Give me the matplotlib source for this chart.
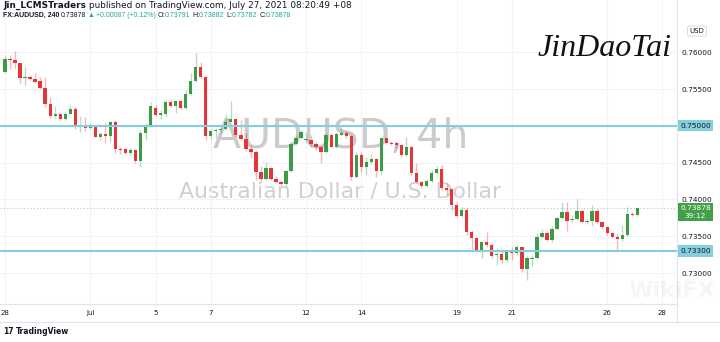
import numpy as np
import matplotlib.pyplot as plt
from matplotlib.transforms import blended_transform_factory

# AUDUSD 4h candles, Jun 28 05:00 .. Jul 27 05:00 (+08)
opens = [0.75728, 0.75909, 0.75895, 0.75851, 0.75650, 0.75660, 0.75640, 0.75610, 0.75519, 0.75293,
         0.75134, 0.75162, 0.75094, 0.75162, 0.75225, 0.74995, 0.75012, 0.74967, 0.74985, 0.74853,
         0.74890, 0.74867, 0.75049, 0.74690, 0.74682, 0.74627, 0.74672, 0.74523, 0.74899, 0.75002,
         0.75239, 0.75148, 0.75162, 0.75329, 0.75270, 0.75342, 0.75239, 0.75433, 0.75610, 0.75804,
         0.75668, 0.74863, 0.74935, 0.74944, 0.74954, 0.75057, 0.75090, 0.74876, 0.74818, 0.74686,
         0.74649, 0.74377, 0.74274, 0.74424, 0.74274, 0.74241, 0.74206, 0.74387, 0.74754, 0.74831,
         0.74808, 0.74808, 0.74750, 0.74717, 0.74641, 0.74876, 0.74717, 0.74880, 0.74907, 0.74863,
         0.74309, 0.74600, 0.74445, 0.74513, 0.74546, 0.74387, 0.74831, 0.74771, 0.74771, 0.74736,
         0.74604, 0.74717, 0.74356, 0.74241, 0.74183, 0.74251, 0.74364, 0.74418, 0.74152, 0.74140,
         0.73930, 0.73780, 0.73857, 0.73562, 0.73472, 0.73304, 0.73418, 0.73381, 0.73245, 0.73259,
         0.73177, 0.73290, 0.73268, 0.73350, 0.73051, 0.73195, 0.73210, 0.73494, 0.73548, 0.73449,
         0.73595, 0.73744, 0.73826, 0.73720, 0.73740, 0.73847, 0.73698, 0.73705, 0.73847, 0.73698,
         0.73622, 0.73548, 0.73494, 0.73459, 0.73517, 0.73802, 0.73791]
highs = [0.75963, 0.75963, 0.76022, 0.75859, 0.75804, 0.75696, 0.75715, 0.75660, 0.75660, 0.75397,
         0.75270, 0.75171, 0.75193, 0.75270, 0.75261, 0.75134, 0.75125, 0.75043, 0.74989, 0.74921,
         0.75039, 0.75070, 0.75077, 0.74717, 0.74695, 0.74695, 0.74682, 0.74944, 0.75035, 0.75329,
         0.75284, 0.75216, 0.75352, 0.75365, 0.75352, 0.75352, 0.75488, 0.75723, 0.75995, 0.75872,
         0.75678, 0.74954, 0.74967, 0.74985, 0.75168, 0.75342, 0.75094, 0.75080, 0.74899, 0.74740,
         0.74672, 0.74450, 0.74513, 0.74437, 0.74319, 0.74265, 0.74400, 0.74785, 0.74876, 0.74944,
         0.74921, 0.74876, 0.74785, 0.74740, 0.74899, 0.74903, 0.74921, 0.75012, 0.74935, 0.74876,
         0.74640, 0.74649, 0.74580, 0.74620, 0.74560, 0.74845, 0.74845, 0.74790, 0.74790, 0.74750,
         0.74853, 0.74730, 0.74495, 0.74251, 0.74280, 0.74400, 0.74450, 0.74470, 0.74220, 0.74160,
         0.73960, 0.73900, 0.73880, 0.73580, 0.73490, 0.73430, 0.73560, 0.73400, 0.73336, 0.73300,
         0.73310, 0.73350, 0.73380, 0.73360, 0.73250, 0.73240, 0.73540, 0.73600, 0.73570, 0.73640,
         0.73766, 0.73970, 0.73970, 0.73790, 0.74000, 0.73870, 0.73750, 0.73925, 0.73870, 0.73710,
         0.73640, 0.73560, 0.73530, 0.73650, 0.73900, 0.73830, 0.73882]
lows = [0.75725, 0.75769, 0.75783, 0.75579, 0.75556, 0.75624, 0.75587, 0.75497, 0.75252, 0.75103,
        0.75111, 0.75080, 0.75080, 0.75148, 0.74954, 0.74921, 0.74935, 0.74954, 0.74845, 0.74808,
        0.74767, 0.74785, 0.74627, 0.74614, 0.74618, 0.74604, 0.74500, 0.74437, 0.74808, 0.74989,
        0.75134, 0.75090, 0.75117, 0.75261, 0.75179, 0.75225, 0.75229, 0.75420, 0.75601, 0.75655,
        0.74808, 0.74818, 0.74831, 0.74903, 0.74944, 0.75049, 0.74853, 0.74808, 0.74663, 0.74559,
        0.74265, 0.74241, 0.74265, 0.74265, 0.74220, 0.74183, 0.74183, 0.74377, 0.74740, 0.74818,
        0.74763, 0.74717, 0.74672, 0.74491, 0.74627, 0.74700, 0.74704, 0.74863, 0.74840, 0.74265,
        0.74290, 0.74380, 0.74330, 0.74480, 0.74309, 0.74332, 0.74750, 0.74740, 0.74700, 0.74581,
        0.74590, 0.74330, 0.74220, 0.74150, 0.74170, 0.74240, 0.74350, 0.74129, 0.74061, 0.73857,
        0.73760, 0.73760, 0.73520, 0.73310, 0.73280, 0.73210, 0.73360, 0.73200, 0.73109, 0.73140,
        0.73150, 0.73177, 0.73250, 0.73020, 0.72900, 0.73090, 0.73190, 0.73480, 0.73430, 0.73420,
        0.73580, 0.73730, 0.73565, 0.73690, 0.73720, 0.73680, 0.73660, 0.73640, 0.73660, 0.73600,
        0.73520, 0.73470, 0.73306, 0.73440, 0.73500, 0.73770, 0.73782]
closes = [0.75909, 0.75895, 0.75851, 0.75655, 0.75660, 0.75637, 0.75603, 0.75519, 0.75293, 0.75134,
          0.75162, 0.75094, 0.75162, 0.75225, 0.74989, 0.75012, 0.74967, 0.74985, 0.74853, 0.74890,
          0.74867, 0.75049, 0.74682, 0.74672, 0.74627, 0.74672, 0.74523, 0.74899, 0.75002, 0.75270,
          0.75148, 0.75179, 0.75329, 0.75270, 0.75342, 0.75239, 0.75433, 0.75610, 0.75804, 0.75668,
          0.74863, 0.74935, 0.74944, 0.74954, 0.75057, 0.75090, 0.74876, 0.74818, 0.74686, 0.74649,
          0.74377, 0.74274, 0.74424, 0.74274, 0.74241, 0.74206, 0.74387, 0.74754, 0.74831, 0.74921,
          0.74815, 0.74750, 0.74717, 0.74641, 0.74876, 0.74717, 0.74890, 0.74907, 0.74863, 0.74309,
          0.74600, 0.74441, 0.74513, 0.74546, 0.74387, 0.74831, 0.74771, 0.74758, 0.74736, 0.74604,
          0.74717, 0.74356, 0.74241, 0.74183, 0.74251, 0.74364, 0.74418, 0.74152, 0.74135, 0.73930,
          0.73780, 0.73857, 0.73562, 0.73472, 0.73304, 0.73418, 0.73381, 0.73232, 0.73259, 0.73177,
          0.73290, 0.73270, 0.73350, 0.73051, 0.73200, 0.73210, 0.73494, 0.73548, 0.73449, 0.73595,
          0.73744, 0.73826, 0.73711, 0.73740, 0.73847, 0.73698, 0.73705, 0.73847, 0.73698, 0.73622,
          0.73548, 0.73494, 0.73459, 0.73517, 0.73802, 0.73790, 0.73878]

date_pos = [0, 17, 30, 41, 60, 71, 90, 101, 120, 131]
date_lbl = ['28', 'Jul', '5', '7', '12', '14', '19', '21', '26', '28']
price_ticks = [0.730, 0.735, 0.740, 0.745, 0.750, 0.755, 0.760]
levels = [0.75000, 0.73300]
last_price = 0.73878

W, H = 720, 342
up_col, dn_col = '#3d9a46', '#e2363b'
level_col = '#84cfdf'

fig = plt.figure(figsize=(W / 100, H / 100), dpi=100)
ax = fig.add_axes([0, (H - 304) / H, 677 / W, 304 / H])

o = np.array(opens); h = np.array(highs); l = np.array(lows); c = np.array(closes)
idx = np.arange(len(o))
up = c >= o
body_col = np.where(up, up_col, dn_col)

ax.vlines(idx[up], l[up], h[up], color=up_col, alpha=0.35, lw=1, zorder=2)
ax.vlines(idx[~up], l[~up], h[~up], color=dn_col, alpha=0.35, lw=1, zorder=2)
ax.bar(idx, np.maximum(np.abs(c - o), 0.00012), bottom=np.minimum(o, c), width=0.66,
       color=body_col, linewidth=0, zorder=3)

for lv in levels:
    ax.axhline(lv, color=level_col, lw=1.5, zorder=4)
ax.axhline(last_price, color='#66bb6a', lw=0.8, ls=(0, (1, 2)), alpha=0.6, zorder=1)

# watermark
ax.text(0.503, 0.548, 'AUDUSD, 4h', transform=ax.transAxes, ha='center', va='center',
        fontsize=29.5, color='#cbcbcb', zorder=0)
ax.text(0.503, 0.37, 'Australian Dollar / U.S. Dollar', transform=ax.transAxes,
        ha='center', va='center', fontsize=15.8, color='#d0d0d0', zorder=0)

ax.set_xlim((0 - 5) / 5.018, (677 - 5) / 5.018)
ax.set_ylim(0.76 - (304 - 52.3) * 0.0001359, 0.76 + 52.3 * 0.0001359)

ax.set_xticks(date_pos)
ax.set_xticklabels(date_lbl)
ax.set_yticks(price_ticks)
# the 0.75000 tick sits under the level label box
ax.set_yticklabels(['' if p in levels else '%.5f' % p for p in price_ticks])
ax.yaxis.tick_right()
ax.tick_params(axis='y', length=0, pad=3.6, labelsize=5.3, labelcolor='#131722')
ax.tick_params(axis='x', length=0, pad=4, labelsize=5, labelcolor='#131722')
ax.grid(True, color='#f0f3fa', lw=0.8)
ax.set_axisbelow(True)
for s in ['top', 'left']:
    ax.spines[s].set_visible(False)
for s in ['right', 'bottom']:
    ax.spines[s].set_color('#e0e3eb')
    ax.spines[s].set_linewidth(0.8)

fig.add_artist(plt.Line2D([0, 1], [1 - 322 / H, 1 - 322 / H], color='#e0e3eb', lw=0.8))
fig.add_artist(plt.Line2D([677 / W, 677 / W], [1 - 304 / H, 1 - 322 / H], color='#e0e3eb', lw=0.8))

# price axis labels
tr = blended_transform_factory(fig.transFigure, ax.transData)
for lv in levels:
    ax.text(695.5 / W, lv, '%.5f' % lv, transform=tr, ha='center', va='center', fontsize=5.3,
            color='#131722', clip_on=False, zorder=6,
            bbox=dict(boxstyle='square,pad=0.35', fc=level_col, ec='none'))
ax.text(695.5 / W, 0.73830, '%.5f\n39:12' % last_price, transform=tr, ha='center', va='center',
        fontsize=5.3, color='white', linespacing=1.35, clip_on=False, zorder=6,
        bbox=dict(boxstyle='square,pad=0.35', fc='#43a047', ec='none'))
fig.text(697 / W, 1 - 31 / H, 'USD', ha='center', va='center', fontsize=5, color='#131722',
         bbox=dict(boxstyle='round,pad=0.3', fc='white', ec='#d1d4dc', lw=0.6))

# signature
fig.text(605 / W, 1 - 49 / H, 'JinDaoTai', ha='center', va='center', fontsize=23,
         family='Liberation Serif', style='italic', color='#111111')

# header rows
renderer = fig.canvas.get_renderer()


def draw_row(x, y, parts, size, family):
    for s, col, wt, gap in parts:
        t = fig.text(x / W, 1 - y / H, s, fontsize=size, color=col, fontweight=wt,
                     family=family, ha='left', va='center')
        x += t.get_window_extent(renderer=renderer).width + gap


teal = '#26a69a'
draw_row(3, 5.5, [('Jin_LCMSTraders', '#131722', 'bold', 3),
                  ('published on TradingView.com, July 27, 2021 08:20:49 +08', '#131722', 'normal', 0)],
         6.4, 'DejaVu Sans')
draw_row(3, 15.5, [('FX:AUDUSD, 240', '#131722', 'bold', 1.5),
                   ('0.73878', '#131722', 'normal', 1.5),
                   ('▲', teal, 'normal', 1.5),
                   ('+0.00087 (+0.12%)', teal, 'normal', 1.5),
                   ('O:', '#131722', 'normal', 0), ('0.73791', teal, 'normal', 1.5),
                   ('H:', '#131722', 'normal', 0), ('0.73882', teal, 'normal', 1.5),
                   ('L:', '#131722', 'normal', 0), ('0.73782', teal, 'normal', 1.5),
                   ('C:', '#131722', 'normal', 0), ('0.73878', teal, 'normal', 0)],
         5.0, ['Liberation Sans', 'DejaVu Sans'])

# footer
fig.text(3 / W, 1 - 332 / H, '17', fontsize=5.5, fontweight='bold', color='#131722', va='center')
fig.text(16 / W, 1 - 332 / H, 'TradingView', fontsize=5.5, fontweight='bold', color='#131722',
         va='center')
fig.text(672 / W, 1 - 291 / H, 'WikiFX', fontsize=16, fontweight='bold', color='black',
         alpha=0.04, ha='center', va='center')

fig.savefig('out.png', dpi=100)
